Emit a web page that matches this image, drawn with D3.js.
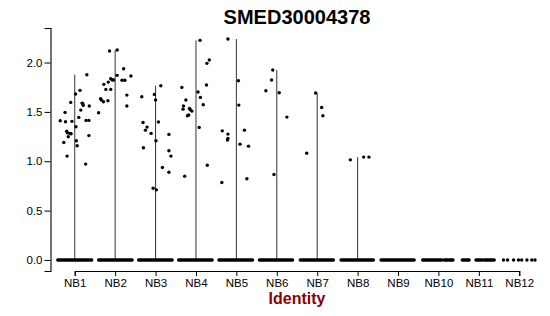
<!DOCTYPE html>
<html>
<head>
<meta charset="utf-8">
<script src="https://cdn.jsdelivr.net/npm/d3@7"></script>
<style>
    body { margin: 0; background: #fff; }
    svg { display: block; font-family: "Liberation Sans", Arial, sans-serif; }
</style>
</head>
<body>
<div id="chart"></div>
<script>
//Datos
const groups = ['NB1', 'NB2', 'NB3', 'NB4', 'NB5', 'NB6', 'NB7', 'NB8', 'NB9', 'NB10', 'NB11', 'NB12'];
const yTicks = [0, 0.5, 1, 1.5, 2];

//Valores de expresión > 0 por grupo, y su desplazamiento (jitter) en unidades de categoría
const nonZeroValues = [
    [1.41, 1.495, 1.40, 1.19, 1.305, 1.288, 1.248, 1.282, 1.278, 1.404, 1.349, 1.681, 1.718, 1.596, 1.518, 1.589, 1.582, 1.566, 1.444, 1.414, 1.414, 1.877, 1.559, 1.207, 1.157, 1.26, 1.052, 0.971],
    [1.491, 1.633, 1.62, 1.603, 1.613, 1.779, 1.728, 1.802, 2.117, 1.728, 1.836, 1.823, 1.823, 2.127, 1.87, 1.937, 1.82, 1.82, 1.67, 1.559, 1.863],
    [1.653, 1.393, 1.315, 1.346, 1.282, 1.136, 1.677, 1.62, 1.207, 1.397, 1.765, 1.272, 1.106, 1.052, 0.937, 0.889, 0.727, 0.71],
    [1.748, 1.62, 1.559, 1.528, 1.461, 1.468, 1.535, 1.521, 1.508, 1.701, 1.647, 1.343, 2.225, 1.572, 1.772, 1.992, 2.025, 0.849, 0.96],
    [2.238, 1.308, 1.275, 1.231, 1.214, 1.815, 1.569, 1.173, 1.315, 1.153, 0.785, 0.822],
    [1.924, 1.823, 1.694, 1.447, 1.714, 0.866],
    [1.691, 1.545, 1.461, 1.082],
    [1.014, 1.042, 1.042],
    [], [], [], []
];
const nonZeroJitter = [
    [-0.36, -0.24, -0.23, -0.27, -0.20, -0.18, -0.16, -0.12, -0.09, -0.07, 0.03, 0.02, 0.13, -0.10, 0.15, 0.18, 0.20, 0.21, 0.10, 0.28, 0.35, 0.30, 0.36, 0.04, 0.06, 0.35, -0.19, 0.27],
    [-0.41, -0.36, -0.34, -0.29, -0.18, -0.28, -0.23, -0.17, -0.14, -0.11, -0.11, -0.07, -0.04, 0.05, 0.05, 0.21, 0.17, 0.24, 0.29, 0.29, 0.39],
    [-0.34, -0.31, -0.25, -0.21, -0.11, -0.30, -0.03, 0.00, 0.01, 0.07, 0.13, 0.33, 0.33, 0.38, 0.17, 0.33, -0.06, 0.02],
    [-0.35, -0.25, -0.31, -0.32, -0.21, -0.18, -0.16, -0.14, -0.10, 0.05, 0.11, 0.08, 0.10, 0.18, 0.26, 0.27, 0.33, -0.28, 0.28],
    [-0.21, -0.35, -0.21, -0.21, -0.22, 0.05, 0.06, 0.09, 0.20, 0.30, -0.36, 0.26],
    [-0.10, -0.13, 0.06, 0.25, -0.27, -0.07],
    [-0.04, 0.11, 0.14, -0.26],
    [-0.18, 0.15, 0.28],
    [], [], [], []
];

//Fila de ceros: tramos [desde, hasta] del jitter ocupados por células con expresión 0
const zeroSpans = [
    [[-0.42, 0.42]],
    [[-0.41, 0.42]],
    [[-0.42, 0.41]],
    [[-0.43, 0.40]],
    [[-0.43, 0.40]],
    [[-0.43, 0.39]],
    [[-0.42, 0.40]],
    [[-0.41, 0.39]],
    [[-0.42, 0.40]],
    [[-0.39, 0.08], [0.14, 0.36]],
    [[-0.41, -0.24], [-0.07, 0.08], [0.13, 0.38]],
    [[-0.39, -0.39], [-0.29, -0.29], [-0.14, -0.14], [-0.02, -0.02], [0.06, 0.06], [0.19, 0.19], [0.31, 0.31], [0.39, 0.39]]
];

///Dimensiones
const width = 550, height = 316;
let margin = {top: 28, right: 6.5, bottom: 45, left: 50.5};

let svg = d3.select('#chart')
    .append('svg')
        .attr('width', width)
        .attr('height', height);

let g = svg.append('g')
    .attr('transform', 'translate(' + margin.left + ',' + margin.top + ')');

let innerW = width - margin.left - margin.right,
    innerH = height - margin.top - margin.bottom;

//Escalas (expansión de ggplot: 0.6 en discretas, 5% en continuas)
let band = innerW / (groups.length - 1 + 1.2);
let x = d3.scalePoint()
    .domain(groups)
    .range([band * 0.6, innerW - band * 0.6]);

let maxAll = d3.max(nonZeroValues.flat());
let pad = maxAll * 0.05;
let y = d3.scaleLinear()
    .domain([-pad, maxAll + pad])
    .range([innerH, 0]);

//Ejes
let yAxis = g.append('g')
    .call(d3.axisLeft(y).tickValues(yTicks).tickFormat(d3.format('.1f')).tickSize(6).tickPadding(2));
let xAxis = g.append('g')
    .attr('transform', 'translate(0,' + innerH + ')')
    .call(d3.axisBottom(x).tickSize(5).tickPadding(3));

[xAxis, yAxis].forEach(function(ax) {
    ax.select('.domain').attr('stroke', '#000').attr('stroke-width', 1.1);
    ax.selectAll('.tick line').attr('stroke', '#000');
    ax.selectAll('.tick text')
        .attr('fill', '#000')
        .style('font-size', '11.5px')
        .style('font-family', '"Liberation Sans", Arial, sans-serif');
});

//Violines (tan finos que son una línea hasta el máximo)
g.append('g')
    .selectAll('line')
    .data(groups.filter(function(d, i) { return nonZeroValues[i].length > 0; }))
    .enter()
    .append('line')
    .attr('x1', function(d) { return x(d); })
    .attr('x2', function(d) { return x(d); })
    .attr('y1', y(0))
    .attr('y2', function(d) { return y(d3.max(nonZeroValues[groups.indexOf(d)])); })
    .attr('stroke', '#333')
    .attr('stroke-width', 1);

//Células con expresión 0
let zeroRows = [];
zeroSpans.forEach(function(spans, i) {
    spans.forEach(function(s) { zeroRows.push({group: groups[i], from: s[0], to: s[1]}); });
});

g.append('g')
    .selectAll('line')
    .data(zeroRows)
    .enter()
    .append('line')
    .attr('x1', function(d) { return x(d.group) + d.from * band; })
    .attr('x2', function(d) { return x(d.group) + d.to * band; })
    .attr('y1', y(0))
    .attr('y2', y(0))
    .attr('stroke', '#000')
    .attr('stroke-width', 3.4)
    .attr('stroke-linecap', 'round');

//Células con expresión > 0
let points = [];
nonZeroValues.forEach(function(vals, i) {
    vals.forEach(function(v, j) { points.push({group: groups[i], value: v, jitter: nonZeroJitter[i][j]}); });
});

g.append('g')
    .selectAll('circle')
    .data(points)
    .enter()
    .append('circle')
    .attr('cx', function(d) { return x(d.group) + d.jitter * band; })
    .attr('cy', function(d) { return y(d.value); })
    .attr('r', 1.7)
    .attr('fill', '#000');

//Título y etiqueta del eje
svg.append('text')
    .attr('x', margin.left + innerW / 2)
    .attr('y', 24)
    .attr('text-anchor', 'middle')
    .style('font-size', '20px')
    .style('font-weight', 'bold')
    .text('SMED30004378');

svg.append('text')
    .attr('x', margin.left + innerW / 2)
    .attr('y', 304)
    .attr('text-anchor', 'middle')
    .attr('fill', '#8B0000')
    .style('font-size', '16px')
    .style('font-weight', 'bold')
    .text('Identity');
</script>
</body>
</html>
